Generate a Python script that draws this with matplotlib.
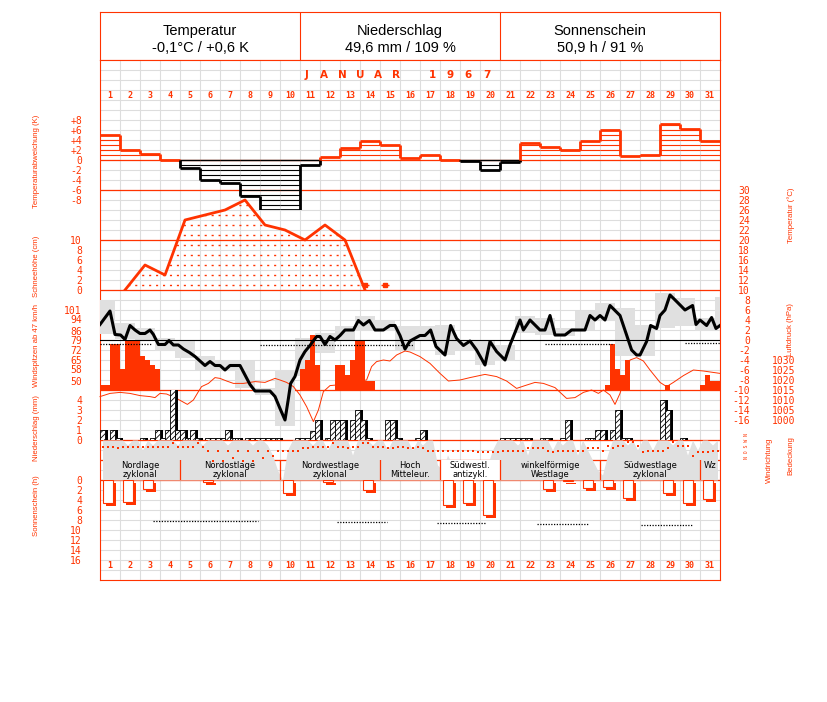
import numpy as np
import matplotlib
matplotlib.use('Agg')
import matplotlib.pyplot as plt
from matplotlib.transforms import offset_copy
from matplotlib import font_manager

RED = '#ff3300'
GRAY = '#e0e0e0'
GRID = '#dddddd'
W, H = 827, 702
MONO = 'DejaVu Sans Mono'
try:
    font_manager.findfont('Liberation Sans Narrow', fallback_to_default=False)
    SIDE_FONT, SIDE_SIZE = 'Liberation Sans Narrow', 7
except ValueError:
    SIDE_FONT, SIDE_SIZE = 'Liberation Sans', 5.6

days = np.arange(1, 32)

# header
head_titles = ['Temperatur', 'Niederschlag', 'Sonnenschein']
head_values = ['-0,1°C / +0,6 K', '49,6 mm / 109 %', '50,9 h / 91 %']
month_title = 'JANUAR 1967'

# daily temperature deviation (K)
dev = [5.0, 2.0, 1.3, 0.1, -1.5, -4.0, -4.5, -7.1, -9.9, -9.9,
       -1.0, 0.7, 2.5, 3.9, 3.0, 0.5, 1.1, 0.1, -0.1, -1.9,
       -0.4, 3.5, 2.7, 2.1, 3.9, 6.0, 0.9, 1.1, 7.2, 6.1, 3.9]
dev_ticks = [8, 6, 4, 2, 0, -2, -4, -6, -8]
dev_labels = ['+8', '+6', '+4', '+2', '0', '-2', '-4', '-6', '-8']

# snow depth (cm), morning values
snow_days = [2, 3, 4, 5, 6, 7, 8, 9, 10, 11, 12, 13, 14]
snow_cm = [0, 5, 3, 14, 15, 16, 18, 13, 12, 10, 13, 10, 0]
trace_days = [14, 15]
trace_cm = [1, 1]

# air temperature (degC), time in days since start of month
temp_t = [0, 0.5, 0.75, 1.03, 1.25, 1.5, 1.75, 2.0, 2.25, 2.5,
          2.67, 2.92, 3.25, 3.45, 3.67, 3.92, 4.17, 4.47, 4.75, 5.0,
          5.25, 5.5, 5.75, 6.0, 6.25, 6.5, 7.0, 7.25, 7.5, 7.75,
          8.5, 8.75, 9.0, 9.25, 9.42, 9.53, 9.75, 10.0, 10.25, 10.5,
          10.83, 11.0, 11.25, 11.5, 11.75, 12.0, 12.25, 12.67, 12.92, 13.17,
          13.47, 13.75, 14.17, 14.5, 14.75, 15.0, 15.25, 15.5, 16.0, 16.25,
          16.53, 16.8, 17.25, 17.53, 17.83, 18.17, 18.5, 18.83, 19.25, 19.5,
          19.83, 20.25, 20.5, 21.0, 21.17, 21.5, 22.0, 22.25, 22.5, 22.75,
          23.25, 23.58, 24.25, 24.5, 24.75, 25.0, 25.25, 25.5, 26.0, 26.33,
          26.58, 26.83, 27.0, 27.33, 27.53, 27.83, 28.0, 28.25, 28.5, 28.83,
          29.25, 29.63, 29.8, 30.0, 30.33, 30.58, 30.8, 31.0]
temp_v = [3.1, 5.8, 1.1, 1.0, 0.1, 2.9, 2.0, 1.3, 1.3, 2.0,
          1.1, -0.9, -0.9, -0.1, -1.0, -1.0, -1.8, -2.5, -3.3, -4.2,
          -5.1, -4.3, -5.1, -5.1, -6.0, -5.1, -5.1, -7.0, -8.9, -10.2,
          -10.2, -11.3, -13.7, -16.0, -11.7, -8.7, -7.3, -4.0, -2.3, -1.1,
          0.7, 0.7, -0.9, 0.7, 0.0, 0.9, 2.0, 2.0, 3.9, 3.0,
          3.9, 2.0, 2.0, 2.9, 2.9, 0.9, -1.8, -0.2, 0.9, 0.9,
          2.0, -1.3, -3.0, 2.9, 0.3, -1.1, -0.2, -2.0, -5.0, -0.3,
          -2.3, -4.0, -1.0, 4.0, 2.0, 4.0, 2.0, 2.0, 4.9, 1.0,
          1.0, 2.0, 2.0, 4.9, 4.0, 4.9, 4.0, 6.9, 4.9, 1.0,
          -2.0, -3.0, -3.0, -0.3, 2.9, 2.3, 4.9, 6.0, 9.0, 7.7,
          6.0, 6.9, 3.1, 4.0, 2.9, 4.5, 2.3, 2.9]
# climate-day min / max (day runs 18h to 18h)
tbox_max = [8.0, 3.3, 2.3, 0.3, -0.3, -3.3, -4.3, -4.3, -9.7, -6.0,
            0.3, 1.3, 2.7, 4.7, 3.7, 2.7, 2.7, 3.0, -0.3, -0.3,
            -1.0, 4.7, 4.3, 2.3, 5.7, 7.3, 6.3, 3.0, 9.3, 8.3, 4.3, 8.6]
tbox_min = [1.1, 0.1, 0.0, -2.3, -3.7, -6.0, -6.0, -9.7, -11.0, -17.3,
            -7.3, -2.7, -0.3, 1.7, 1.7, -2.0, -0.3, -3.0, -2.0, -5.0,
            -4.3, 1.3, 1.0, 0.7, 2.0, 3.7, -3.3, -3.3, 2.3, 2.7, 1.7, 2.6]
temp_ticks = list(range(-16, 31, 2))
# long-term mean temperature segments
norm_t0 = [0, 8.0, 22.25, 29.25]
norm_t1 = [2.6, 15.7, 25.6, 31]
norm_v = [-0.9, -1.0, -0.8, -0.6]

# air pressure (hPa)
pres_t = [0, 0.5, 1.0, 1.5, 2.0, 2.5, 2.75, 3.0, 3.33, 3.83,
          4.37, 4.67, 4.92, 5.08, 5.42, 5.75, 6.0, 6.33, 6.67, 7.17,
          7.75, 8.25, 8.75, 9.0, 9.33, 9.67, 10.0, 10.33, 10.67, 10.92,
          11.17, 11.5, 11.83, 12.33, 12.83, 13.33, 13.58, 13.83, 14.17, 14.5,
          14.83, 15.25, 15.5, 16.0, 16.5, 17.0, 17.42, 18.0, 18.5, 19.25,
          19.83, 20.33, 20.83, 21.25, 21.75, 22.17, 22.75, 23.33, 23.75, 24.17,
          24.58, 24.92, 25.17, 25.5, 25.75, 26.0, 26.25, 26.5, 26.83, 27.17,
          27.5, 28.0, 28.33, 28.67, 29.17, 29.67, 30.17, 31.0]
pres_v = [1011.7, 1013.3, 1013.8, 1013.3, 1012.2, 1011.7, 1011.2, 1013.3, 1013.0, 1010.8,
          1007.8, 1010.0, 1014.2, 1016.7, 1018.3, 1021.2, 1020.8, 1019.5, 1018.3, 1018.3,
          1019.2, 1018.8, 1020.8, 1020.0, 1018.8, 1016.7, 1012.5, 1006.7, 999.2, 1005.0,
          1014.2, 1017.2, 1017.5, 1018.3, 1019.2, 1020.0, 1026.7, 1029.2, 1030.0, 1029.5,
          1032.5, 1034.5, 1034.0, 1031.7, 1028.3, 1023.3, 1019.5, 1020.0, 1021.2, 1022.8,
          1021.7, 1019.5, 1015.8, 1017.2, 1018.8, 1018.3, 1016.2, 1010.8, 1011.2, 1013.8,
          1015.0, 1013.3, 1015.0, 1012.5, 1007.8, 1013.3, 1021.7, 1030.0, 1031.2, 1029.5,
          1025.0, 1018.8, 1016.7, 1018.8, 1022.2, 1025.0, 1024.5, 1023.3]
pres_ticks = [1000, 1005, 1010, 1015, 1020, 1025, 1030]

# wind gusts (km/h), 6-hourly, 0 = below 47 km/h
gust = [[47, 47, 76, 76], [58, 79, 79, 79], [68, 65, 61, 58], [0, 0, 0, 0],
        [0, 0, 0, 0], [0, 0, 0, 0], [0, 0, 0, 0], [0, 0, 0, 0],
        [0, 0, 0, 0], [0, 0, 0, 0], [58, 65, 83, 61], [0, 0, 0, 61],
        [61, 54, 65, 79], [79, 50, 50, 0], [0, 0, 0, 0], [0, 0, 0, 0],
        [0, 0, 0, 0], [0, 0, 0, 0], [0, 0, 0, 0], [0, 0, 0, 0],
        [0, 0, 0, 0], [0, 0, 0, 0], [0, 0, 0, 0], [0, 0, 0, 0],
        [0, 0, 0, 0], [0, 47, 76, 58], [54, 65, 0, 0], [0, 0, 0, 0],
        [0, 47, 0, 0], [0, 0, 0, 0], [47, 54, 50, 50]]
gust_ticks = [50, 58, 65, 72, 79, 86, 94, 101]

# precipitation (mm), 6-hourly
prec = [[1.0, 0, 1.0, 0.2], [0, 0, 0, 0], [0.2, 0, 0.2, 1.0], [0.2, 1.0, 6.0, 1.0],
        [1.0, 0.2, 1.0, 0.2], [0, 0.2, 0.2, 0.2], [0.2, 1.0, 0.2, 0.2], [0, 0.2, 0.2, 0.2],
        [0.2, 0.2, 0.2, 0.2], [0, 0, 0, 0.2], [0.2, 0.2, 0.9, 2.0], [0, 0.2, 2.0, 2.0],
        [2.0, 0, 2.0, 3.0], [2.0, 0.2, 0, 0], [0, 2.0, 2.0, 0.2], [0, 0, 0, 0.2],
        [1.0, 0, 0, 0], [0, 0, 0, 0], [0, 0, 0, 0], [0, 0, 0, 0],
        [0.2, 0.2, 0.2, 0.2], [0.2, 0.2, 0, 0], [0.2, 0.2, 0, 0], [0.2, 2.0, 0, 0],
        [0, 0.2, 0.2, 1.0], [1.0, 0, 1.0, 3.0], [0.2, 0.2, 0, 0], [0, 0, 0, 0],
        [4.0, 3.0, 0, 0], [0.2, 0, 0, 0], [0, 0, 0, 0]]

# wind direction (deg), 6-hourly
wdir = [[300, 300, 300, 290], [300, 300, 300, 300], [300, 300, 300, 300], [300, 300, 330, 300],
        [300, 300, 300, 330], [300, 260, 170, 260], [170, 260, 200, 260], [170, 260, 170, 260],
        [200, 260, 220, 260], [260, 260, 260, 260], [290, 290, 300, 300], [300, 300, 330, 300],
        [300, 290, 300, 300], [330, 330, 300, 300], [300, 290, 290, 300], [300, 290, 290, 300],
        [290, 260, 260, 260], [260, 260, 260, 260], [260, 260, 260, 250], [250, 250, 250, 250],
        [260, 260, 260, 260], [260, 290, 290, 290], [290, 260, 250, 260], [260, 260, 260, 260],
        [260, 290, 290, 290], [260, 310, 290, 310], [310, 340, 340, 310], [250, 260, 260, 260],
        [260, 290, 340, 310], [310, 310, 220, 250], [250, 250, 260, 260]]

# cloud cover (octas), 6-hourly
cloud = [[8, 8, 8, 8], [8, 7, 8, 8], [6, 8, 7, 8], [8, 8, 8, 7],
         [8, 8, 8, 8], [7, 8, 8, 8], [8, 7, 8, 8], [8, 8, 7, 8],
         [8, 7, 5, 2], [0, 6, 8, 8], [8, 8, 7, 8], [8, 6, 8, 8],
         [8, 8, 5, 8], [8, 8, 7, 8], [8, 6, 8, 8], [8, 8, 6, 8],
         [7, 8, 8, 3], [2, 5, 3, 1], [2, 4, 2, 3], [1, 3, 6, 8],
         [8, 8, 8, 7], [8, 5, 8, 8], [8, 8, 6, 8], [7, 8, 8, 5],
         [8, 6, 4, 2], [1, 5, 8, 8], [8, 7, 8, 6], [8, 8, 6, 8],
         [8, 8, 7, 8], [8, 5, 8, 6], [8, 8, 7, 8]]

# weather types
wt_start = [0, 4, 9, 14, 17, 20, 25, 30]
wt_end = [4, 9, 14, 17, 20, 25, 30, 31]
wt_names = ['Nordlage\nzyklonal', 'Nordostlage\nzyklonal', 'Nordwestlage\nzyklonal',
            'Hoch\nMitteleur.', 'Südwestl.\nantizykl.', 'winkelförmige\nWestlage',
            'Südwestlage\nzyklonal', 'Wz']
wt_white = [False, False, False, False, True, False, False, False]

# sunshine duration (h)
sun = [4.6, 4.4, 1.8, 0, 0, 0.3, 0, 0, 0, 2.6, 0, 0.3, 0, 1.9, 0, 0,
       0, 5.0, 4.6, 7.0, 0, 0, 1.8, 0.2, 1.5, 1.4, 3.6, 0, 2.6, 4.6, 3.8]
sun_norm_t0 = [2.65, 11.85, 16.85, 21.85, 27.05]
sun_norm_t1 = [7.9, 14.35, 19.3, 24.4, 29.6]
sun_norm_v = [8.2, 8.4, 8.5, 8.8, 9.0]


def frac(top, bottom):
    return [100 / W, 1 - bottom / H, 620 / W, (bottom - top) / H]


def panel(top, bottom, ylim):
    ax = fig.add_axes(frac(top, bottom))
    ax.set_xlim(0, 31)
    ax.set_ylim(*ylim)
    ax.patch.set_alpha(0)
    ax.set_xticks([])
    ax.set_yticks([])
    for s in ax.spines.values():
        s.set_visible(False)
    return ax


def left_ticks(ax, ticks, labels):
    ax.set_yticks(ticks)
    ax.set_yticklabels(labels, fontfamily=MONO, fontsize=7, color=RED)
    ax.tick_params(axis='y', length=0, pad=13)


def right_ticks(ax, ticks, labels, pad_px):
    ax.yaxis.tick_right()
    ax.set_yticks(ticks)
    ax.set_yticklabels(labels, fontfamily=MONO, fontsize=7, color=RED, ha='right')
    ax.tick_params(axis='y', length=0, pad=pad_px * 0.72)


plt.rcParams['hatch.linewidth'] = 0.6
fig = plt.figure(figsize=(W / 100, H / 100), dpi=100)

# header box
axh = panel(12, 60, (0, 1))
for s in axh.spines.values():
    s.set_visible(True)
    s.set_color(RED)
for xd in [10, 20]:
    axh.axvline(xd, color=RED, lw=0.8)
for i in range(3):
    axh.text(5 + 10 * i, 0.6, head_titles[i], ha='center', va='center',
             fontsize=10.5, family='Liberation Sans')
    axh.text(5 + 10 * i, 0.25, head_values[i], ha='center', va='center',
             fontsize=10.5, family='Liberation Sans')

# background grid, separators, day numbers
axg = fig.add_axes(frac(60, 580))
axg.set_xlim(0, 31)
axg.set_ylim(580, 60)
axg.set_xticks(np.arange(0, 32))
axg.set_yticks(np.arange(60, 581, 10))
axg.grid(True, color=GRID, lw=0.8)
axg.tick_params(length=0, labelleft=False, labelbottom=False)
for s in axg.spines.values():
    s.set_color(RED)
for yp in [160, 190, 240, 290, 390, 440, 460, 480]:
    axg.axhline(yp, color=RED, lw=0.9)
for d in days:
    axg.text(d - 0.5, 95.5, str(d), ha='center', va='center', fontsize=6,
             family=MONO, color=RED, fontweight='bold')
    axg.text(d - 0.5, 565.5, str(d), ha='center', va='center', fontsize=6,
             family=MONO, color=RED, fontweight='bold')
for i, ch in enumerate(month_title):
    axg.text(10.3 + 0.9025 * i, 75.5, ch, ha='center', va='center', fontsize=7.5,
             color=RED, fontweight='bold')

# temperature deviation
axd = panel(110, 210, (-10, 10))
left_ticks(axd, dev_ticks, dev_labels)
for i, v in enumerate(dev):
    c = RED if v >= 0 else 'black'
    sgn = 1 if v >= 0 else -1
    for k in range(1, int(np.ceil(abs(v)))):
        axd.hlines(sgn * k, i, i + 1, color=c, lw=0.8)
    axd.hlines(v, i, i + 1, color=c, lw=2.0)
    if v < 0:
        axd.hlines(0, i, i + 1, color='black', lw=1.0)
    if i + 1 < len(dev):
        n = dev[i + 1]
        if (v >= 0) == (n >= 0):
            axd.vlines(i + 1, v, n, color=c, lw=2.0)
        else:
            axd.vlines(i + 1, v, 0, color=c, lw=2.0)
            axd.vlines(i + 1, 0, n, color=RED if n >= 0 else 'black', lw=2.0)

# snow depth
axs = panel(190, 290, (0, 20))
left_ticks(axs, [0, 2, 4, 6, 8, 10], ['0', '2', '4', '6', '8', '10'])
snow_t = np.array(snow_days) - 0.75
poly = axs.fill_between(snow_t, 0, snow_cm, facecolor='none', edgecolor='none')
clip = poly.get_paths()[0]
for lev in range(1, 19, 2):
    ln, = axs.plot([0, 31], [lev, lev], color=RED, lw=1.0, ls=(0, (1.5, 3.5)))
    ln.set_clip_path(clip, axs.transData)
axs.plot(snow_t, snow_cm, color=RED, lw=2.0)
tr_t = np.array(trace_days) - 0.75
axs.hlines(trace_cm, tr_t - 0.2, tr_t + 0.2, color=RED, lw=1.0)
axs.plot(tr_t, trace_cm, ls='none', marker='s', ms=2.5, color=RED)

# temperature min/max boxes
tq = np.arange(124) / 4
axtb = panel(190, 440, (-20, 30))
kk = np.arange(len(tbox_max)) - 0.25
axtb.bar(kk, np.array(tbox_max) - np.array(tbox_min), bottom=tbox_min, width=1,
         align='edge', color=GRAY, lw=0)

# wind gusts
axw = panel(290, 390, (43.2, 115.2))
left_ticks(axw, gust_ticks, [str(g) for g in gust_ticks])
g = np.ravel(gust).astype(float)
m = g > 0
axw.bar(tq[m], g[m] - 43.2, bottom=43.2, width=0.25, align='edge', color=RED, lw=0)

# pressure
axp = panel(190, 440, (990, 1115))
right_ticks(axp, pres_ticks, [str(p) for p in pres_ticks], 75)
axp.plot(pres_t, pres_v, color=RED, lw=0.7, clip_on=False)

# temperature
axt = panel(190, 440, (-20, 30))
right_ticks(axt, temp_ticks, [str(t) for t in temp_ticks], 30)
axt.axhline(0, xmin=0, xmax=1, color='black', lw=0.8)
axt.hlines(norm_v, norm_t0, norm_t1, color='black', lw=0.9, ls=(0, (1, 1.2)))
axt.plot(temp_t, temp_v, color='black', lw=2.2)

# precipitation
axr = panel(390, 440, (0, 5))
left_ticks(axr, [0, 1, 2, 3, 4], ['0', '1', '2', '3', '4'])
p = np.ravel(prec).astype(float)
m = p > 0
shadow = axr.bar(tq[m], p[m], width=0.25, align='edge', color='black', lw=0)
off = offset_copy(axr.transData, fig=fig, x=2.5, y=0, units='dots')
for b in shadow:
    b.set_transform(off)
axr.bar(tq[m], p[m], width=0.25, align='edge', facecolor='white',
        edgecolor='black', hatch='//////', lw=0.6)

# cloud cover
axc = panel(440, 480, (0, 8))
axc.fill_between(tq + 0.125, 0, np.ravel(cloud), color=GRAY, lw=0)

# weather types
axwt = panel(460, 480, (0, 1))
for s0, s1, name, white in zip(wt_start, wt_end, wt_names, wt_white):
    if white:
        axwt.axvspan(s0, s1, color='white', lw=0)
    if s0 > 0:
        axwt.axvline(s0, color=RED, lw=0.9)
    yy = 0.5 if '\n' in name else 0.7
    axwt.text((s0 + s1) / 2, yy, name, ha='center', va='center', fontsize=6,
              linespacing=1.0)

# wind direction
axdir = panel(440, 480, (0, 360))
axdir.scatter(tq + 0.125, np.ravel(wdir), marker='s', s=3, color=RED, lw=0)

# sunshine
axsun = panel(480, 580, (20, 0))
left_ticks(axsun, list(range(0, 17, 2)), [str(h) for h in range(0, 17, 2)])
sv = np.array(sun)
m = sv > 0
x0 = days[m] - 1 + 0.15
sh = axsun.bar(x0, sv[m], width=0.5, align='edge', color=RED, lw=0)
off = offset_copy(axsun.transData, fig=fig, x=3, y=-3, units='dots')
for b in sh:
    b.set_transform(off)
axsun.bar(x0, sv[m], width=0.5, align='edge', facecolor='white', edgecolor=RED, lw=0.8)
axsun.hlines(sun_norm_v, sun_norm_t0, sun_norm_t1, color='black', lw=0.9,
             ls=(0, (1, 1.2)))


# axis titles
def side_label(x, y, s):
    fig.text(x / W, 1 - y / H, s, rotation=90, ha='center', va='center',
             color=RED, fontsize=SIDE_SIZE, family=SIDE_FONT)


side_label(37, 161, 'Temperaturabweichung (K)')
side_label(37, 266, 'Schneehöhe (cm)')
side_label(37, 346, 'Windspitzen ab 47 km/h')
side_label(37, 428, 'Niederschlag (mm)')
side_label(37, 506, 'Sonnenschein (h)')
side_label(791, 215, 'Temperatur (°C)')
side_label(791, 330, 'Luftdruck (hPa)')
side_label(769, 460, 'Windrichtung')
side_label(791, 456, 'Bedeckung')
fig.text(747 / W, 1 - 446 / H, 'N O S W N', rotation=90, ha='center', va='center',
         color=RED, fontsize=3.5, family=MONO)

fig.savefig('out.png', dpi=100)
